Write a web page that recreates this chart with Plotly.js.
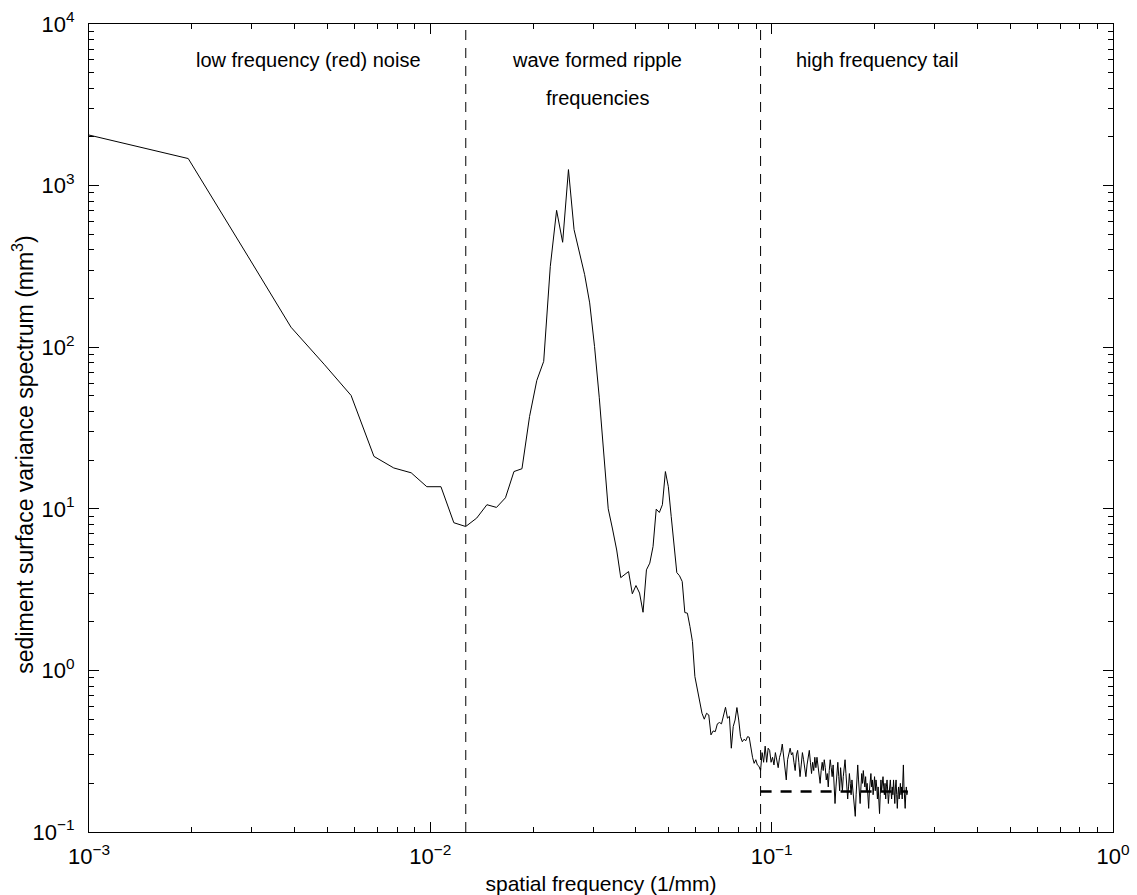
<!DOCTYPE html>
<html>
<head>
<meta charset="utf-8">
<script src="https://cdn.plot.ly/plotly-3.0.1.min.js"></script>
<style>
  html, body { margin: 0; padding: 0; background: #ffffff; }
  #chart { width: 1137px; height: 895px; }
</style>
</head>
<body>
<div id="chart"></div>
<script>
// Bed-elevation profile: 512 samples at 2 mm spacing -> harmonic spacing 1/1024 mm^-1
const freqStep = 1 / 1024;          // 1/mm
const harmonicCount = 256;          // up to the Nyquist frequency 0.25 1/mm

// Variance spectrum estimate (mm^3) at harmonics k = 1..256
const spectrum = [
  // k = 1..13  low frequency (red) noise
  2080, 1470, 362, 133, 78.5, 50.3, 21.1, 17.9, 16.7, 13.7, 13.7, 8.2, 7.77,
  // k = 14..60  wave formed ripple band (primary peak and first harmonic)
  8.76, 10.6, 10.2, 11.7, 17.0, 17.7, 37.3, 62.3, 81.7, 316,
  703, 446, 1256, 534, 392, 281, 188, 101, 49, 22.9,
  10.0, 7.5, 5.56, 3.75, 3.90, 4.09, 2.98, 3.35, 3.01, 2.29,
  4.19, 4.61, 5.84, 9.95, 9.49, 10.6, 17.0, 13.7, 8.96, 5.84,
  4.03, 3.85, 3.55, 2.28, 2.26, 1.87, 1.51,
  // k = 61..94  roll-off
  0.916, 0.757, 0.656, 0.543, 0.499, 0.543, 0.530, 0.399, 0.422, 0.418,
  0.467, 0.476, 0.467, 0.518, 0.591, 0.506, 0.520, 0.330, 0.449, 0.493,
  0.589, 0.493, 0.389, 0.362, 0.375, 0.367, 0.389, 0.386, 0.322, 0.290,
  0.266, 0.280, 0.260, 0.255,
  // k = 95..256  high frequency tail
  0.24, 0.31, 0.27, 0.34, 0.27, 0.33, 0.32, 0.27, 0.29, 0.26,
  0.31, 0.28, 0.25, 0.29, 0.31, 0.35, 0.30, 0.25, 0.21, 0.28,
  0.31, 0.33, 0.30, 0.31, 0.27, 0.24, 0.30, 0.32, 0.27, 0.22,
  0.26, 0.31, 0.28, 0.25, 0.22, 0.26, 0.29, 0.32, 0.27, 0.23,
  0.27, 0.24, 0.29, 0.25, 0.29, 0.26, 0.22, 0.20, 0.24, 0.27,
  0.24, 0.28, 0.25, 0.21, 0.23, 0.19, 0.24, 0.28, 0.25, 0.22,
  0.26, 0.20, 0.15, 0.19, 0.23, 0.27, 0.22, 0.18, 0.25, 0.21,
  0.18, 0.22, 0.25, 0.28, 0.23, 0.19, 0.16, 0.19, 0.23, 0.20,
  0.17, 0.21, 0.18, 0.15, 0.13, 0.125, 0.17, 0.22, 0.26, 0.21,
  0.18, 0.15, 0.19, 0.23, 0.20, 0.24, 0.21, 0.19, 0.22, 0.18,
  0.20, 0.16, 0.14, 0.18, 0.21, 0.23, 0.19, 0.21, 0.17, 0.20,
  0.22, 0.18, 0.21, 0.19, 0.16, 0.19, 0.135, 0.13, 0.17, 0.21,
  0.18, 0.20, 0.22, 0.19, 0.17, 0.20, 0.16, 0.19, 0.21, 0.18,
  0.15, 0.17, 0.20, 0.21, 0.18, 0.16, 0.19, 0.17, 0.21, 0.18,
  0.15, 0.19, 0.21, 0.17, 0.14, 0.17, 0.19, 0.16, 0.18, 0.20,
  0.17, 0.19, 0.16, 0.23, 0.26, 0.19, 0.15, 0.14, 0.17, 0.19,
  0.17, 0.18
];

// Band boundaries (1/mm) and mean level of the high frequency tail (mm^3)
const bandEdges = [0.0127, 0.0928];
const tailLevel = 0.178;
const tailStart = 0.0928;
const tailEnd = 0.25;

// Axis decades
const xDecades = [0.001, 0.01, 0.1, 1];
const xDecadeLabels = ['10<sup>\u22123</sup>', '10<sup>\u22122</sup>', '10<sup>\u22121</sup>', '10<sup>0</sup>'];
const yDecades = [0.1, 1, 10, 100, 1000, 10000];
const yDecadeLabels = ['10<sup>\u22121</sup>', '10<sup>0</sup>', '10<sup>1</sup>', '10<sup>2</sup>', '10<sup>3</sup>', '10<sup>4</sup>'];

// Axis titles and region labels
const xTitle = 'spatial frequency (1/mm)';
const yTitle = 'sediment surface variance spectrum (mm<sup>3</sup>)';
const regionLabels = ['low frequency (red) noise', 'wave formed ripple', 'frequencies', 'high frequency tail'];

const frequencies = [];
for (let k = 1; k <= harmonicCount; k++) frequencies.push(k * freqStep);

function minorTicks(decades) {
  const vals = [];
  for (let i = 0; i < decades.length - 1; i++) {
    for (let m = 2; m <= 9; m++) vals.push(decades[i] * m);
  }
  return vals;
}

const FONT = '"Liberation Sans", Arial, Helvetica, sans-serif';

const traces = [
  {
    x: frequencies, y: spectrum, type: 'scatter', mode: 'lines',
    line: { color: '#000000', width: 1 }, hoverinfo: 'skip'
  },
  {
    x: [tailStart, tailEnd], y: [tailLevel, tailLevel], type: 'scatter', mode: 'lines',
    line: { color: '#000000', width: 2.6, dash: '11px,9px' }, hoverinfo: 'skip'
  }
];
bandEdges.forEach(function (f) {
  traces.push({
    x: [f, f], y: [yDecades[0], yDecades[yDecades.length - 1]], type: 'scatter', mode: 'lines',
    line: { color: '#000000', width: 1, dash: '10px,8px' }, hoverinfo: 'skip'
  });
});

const axisCommon = {
  type: 'log',
  tickmode: 'array',
  ticks: 'inside', ticklen: 10, tickwidth: 1, tickcolor: '#000000',
  showline: true, linecolor: '#000000', linewidth: 1, mirror: 'ticks',
  showgrid: false, zeroline: false, automargin: false,
  tickfont: { family: FONT, size: 22, color: '#000000' }
};

function label(text, x, y, size, angle) {
  return {
    text: text, xref: 'paper', yref: 'paper', x: x, y: y,
    xanchor: 'center', yanchor: 'middle', showarrow: false, textangle: angle || 0,
    font: { family: FONT, size: size, color: '#000000' }
  };
}

const layout = {
  width: 1137, height: 895,
  margin: { l: 89, r: 24, t: 24, b: 63, pad: 0 },
  paper_bgcolor: '#ffffff', plot_bgcolor: '#ffffff',
  showlegend: false,
  font: { family: FONT, size: 20, color: '#000000' },
  xaxis: Object.assign({}, axisCommon, {
    range: [-3, 0],
    tickvals: xDecades, ticktext: xDecadeLabels,
    ticklabelstandoff: 5,
    minor: { tickmode: 'array', tickvals: minorTicks(xDecades), ticks: 'inside', ticklen: 5, tickwidth: 1, tickcolor: '#000000', showgrid: false },
    title: { text: xTitle, font: { family: FONT, size: 21, color: '#000000' } }
  }),
  yaxis: Object.assign({}, axisCommon, {
    range: [-1, 4],
    tickvals: yDecades, ticktext: yDecadeLabels,
    ticklabelstandoff: 9,
    minor: { tickmode: 'array', tickvals: minorTicks(yDecades), ticks: 'inside', ticklen: 5, tickwidth: 1, tickcolor: '#000000', showgrid: false }
  }),
  annotations: [
    label(yTitle, -0.0645, 0.4669, 23, -90),
    label(regionLabels[0], 0.2148, 0.955, 20),
    label(regionLabels[1], 0.4958, 0.955, 20),
    label(regionLabels[2], 0.4966, 0.908, 20),
    label(regionLabels[3], 0.7695, 0.955, 20)
  ]
};

Plotly.newPlot('chart', traces, layout, { staticPlot: true, displayModeBar: false });
</script>
</body>
</html>
